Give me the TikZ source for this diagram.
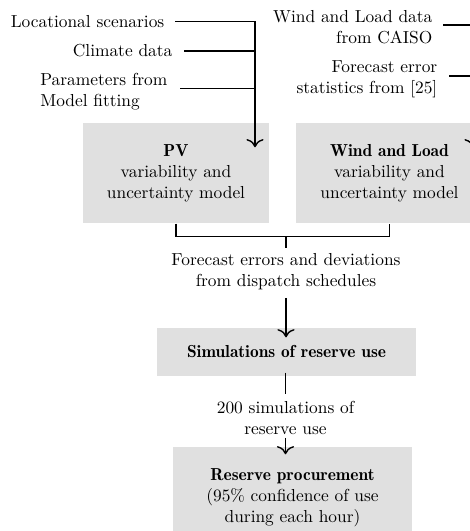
\documentclass[tikz,border=0pt]{standalone}
\usetikzlibrary{calc,arrows.meta}
\newcommand{\demib}[1]{{\fontseries{b}\selectfont #1}}
\begin{document}
\begin{tikzpicture}[x=0.5755pt,y=-0.5755pt,
  line width=0.8pt,
  txt/.style={inner sep=0pt},
  box/.style={fill=black!12, inner sep=0pt, align=center},
  arr/.style={-{To[scale=1.4]}}]
\useasboundingbox (0,0) rectangle (470,531);

% input texts
\node[txt,anchor=east] (loc) at (165,21.5) {Locational scenarios};
\node[txt,anchor=east] (clim) at (173,51) {Climate data};
\node[txt,anchor=east,align=left] (par) at (168,92) {Parameters from\\Model fitting};
\node[txt,anchor=east,align=right] (wld) at (433,27) {Wind and Load data\\from CAISO};
\node[txt,anchor=east,align=right] (fes) at (438,79) {Forecast error\\statistics from [25]};

% boxes
\node[box,minimum width=107pt,minimum height=57.6pt] (pv) at (176,173)
  {\demib{PV}\\variability and\\uncertainty model};
\node[box,minimum width=107.6pt,minimum height=57.6pt] (wl) at (389.5,173)
  {\demib{Wind and Load}\\variability and\\uncertainty model};
\node[txt,align=center] (fe) at (286,272) {Forecast errors and deviations\\from dispatch schedules};
\node[box,minimum width=149.1pt,minimum height=27.6pt] (sim) at (286.5,352)
  {\demib{Simulations of reserve use}};
\node[txt,align=center] (s200) at (285.5,418) {200 simulations of\\reserve use};
\node[box,minimum width=138.1pt,minimum height=58.7pt] (res) at (292.5,498)
  {\demib{Reserve procurement}\\(95\% confidence of use\\during each hour)};

% connectors
\coordinate (pvx) at (255,0);
\coordinate (wlx) at (473,0);
\coordinate (br) at (0,236.7);

\draw[arr] ($(loc.east)+(10,0)$) -| ($(pv.north -| pvx)+(0,25)$);
\draw ($(clim.east)+(11,0)$) -- (clim.east -| pvx);
\draw ($(par.east)+(12,-3.5)$) -- ($(par.east -| pvx)+(0,-3.5)$);

\draw[arr] ($(wld.east)+(10,-2)$) -| ($(wl.north -| wlx)+(0,25)$);
\draw ($(fes.east)+(11,-3)$) -- ($(fes.east -| wlx)+(0,-3)$);

\draw (pv.south) -- (pv.south |- br) -- (wl.south |- br) -- (wl.south);
\draw (br -| fe.north) -- ($(fe.north)+(0,-5.6)$);

\draw[arr] ($(fe.south)+(0,7)$) -- ($(sim.north -| fe.south)+(0,10)$);
\draw ($(sim.south -| s200.north)+(0,-4)$) -- ($(s200.north)+(0,-6.5)$);
\draw[arr] ($(s200.south)+(0,2.5)$) -- ($(res.north -| s200.south)+(0,8)$);
\end{tikzpicture}
\end{document}
